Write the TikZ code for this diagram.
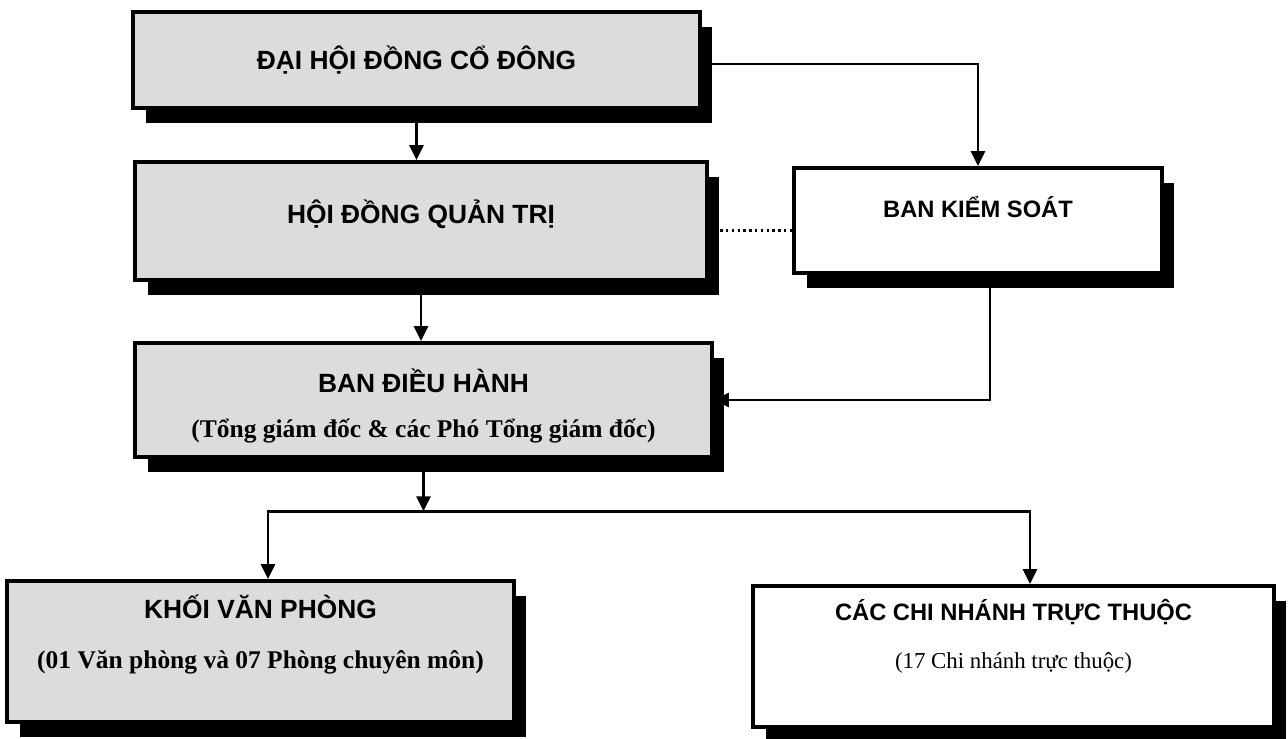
\documentclass[tikz,border=0pt]{standalone}
\usepackage{fontspec}
\setmainfont{Liberation Serif}
\setsansfont{Liberation Sans}
\usepackage{xcolor}
\definecolor{GrainFill}{HTML}{DCDCDC}
\definecolor{LineBlack}{HTML}{000000}
\usepackage{tikz}
\usetikzlibrary{arrows.meta, positioning, shadows, backgrounds}

\begin{document}
\begin{tikzpicture}[
  x=0.02cm, y=-0.02cm,
  orgbox/.style={rectangle, draw=LineBlack, line width=2.2pt, inner sep=0pt,
                 drop shadow={shadow xshift=0.25cm, shadow yshift=-0.3cm,
                              fill=LineBlack, opacity=1}},
  greybox/.style={orgbox, fill=GrainFill},
  whitebox/.style={orgbox, fill=white},
  headtxt/.style={font=\fontsize{15}{17}\sffamily\bfseries, inner sep=0pt, anchor=base},
  headtxtw/.style={font=\fontsize{13.5}{16}\sffamily\bfseries, inner sep=0pt, anchor=base},
  subtxt/.style={font=\fontsize{14.5}{17}\selectfont\bfseries, inner sep=0pt, anchor=base},
  subtxtw/.style={font=\fontsize{13}{16}\selectfont, inner sep=0pt, anchor=base},
  conn/.style={draw=LineBlack, line width=1.6pt},
  arr/.style={conn, -{Triangle[length=0.3cm, width=0.28cm]}},
]
\useasboundingbox (0,0) rectangle (1288,739);

% boxes
\node[greybox, minimum width=11.34cm, minimum height=1.92cm] (dhcd) at (416.5,60) {};
\node[greybox, minimum width=11.44cm, minimum height=2.36cm] (hdqt) at (421,221) {};
\node[whitebox, minimum width=7.36cm, minimum height=2.10cm] (bks) at (978,220.5) {};
\node[greybox, minimum width=11.54cm, minimum height=2.28cm] (bdh) at (423.5,400) {};
\node[greybox, minimum width=10.14cm, minimum height=2.82cm] (kvp) at (260.5,651.5) {};
\node[whitebox, minimum width=10.42cm, minimum height=2.82cm] (ccn) at (1013.5,656.5) {};

% texts
\node[headtxt] (dhcd-t) at (416.5,70) {ĐẠI HỘI ĐỒNG CỔ ĐÔNG};
\node[headtxt] (hdqt-t) at (421,224) {HỘI ĐỒNG QUẢN TRỊ};
\node[headtxtw] (bks-t) at (978,218) {BAN KIỂM SOÁT};
\node[headtxt] (bdh-t) at (423.5,393) {BAN ĐIỀU HÀNH};
\node[subtxt] (bdh-s) at (423.5,438) {(Tổng giám đốc \& các Phó Tổng giám đốc)};
\node[headtxt] (kvp-t) at (260.5,618) {KHỐI VĂN PHÒNG};
\node[subtxt] (kvp-s) at (260.5,668) {(01 Văn phòng và 07 Phòng chuyên môn)};
\node[headtxtw] (ccn-t) at (1013.5,620) {CÁC CHI NHÁNH TRỰC THUỘC};
\node[subtxtw] (ccn-s) at (1013.5,668) {(17 Chi nhánh trực thuộc)};

% connectors
\begin{scope}[on background layer]
\draw[arr] (dhcd.south) -- (dhcd.south |- hdqt.north);
\draw[arr] ([yshift=-0.08cm]dhcd.east) -| (bks.north);
\draw[conn, line width=1.3pt, dotted] ([yshift=-0.2cm]bks.west) -- ([yshift=-0.2cm]bks.west -| hdqt.east);
\draw[arr] ([xshift=0.24cm]bks.south) |- (bdh.east);
\draw[arr] (hdqt.south) -- (hdqt.south |- bdh.north);
\coordinate (split) at ([yshift=-1.05cm]bdh.south);
\draw[arr] (bdh.south) -- (split);
\draw[arr] (split) -| ([xshift=0.15cm]kvp.north);
\draw[arr] (split) -| ([xshift=0.33cm]ccn.north);
\end{scope}
\end{tikzpicture}
\end{document}
